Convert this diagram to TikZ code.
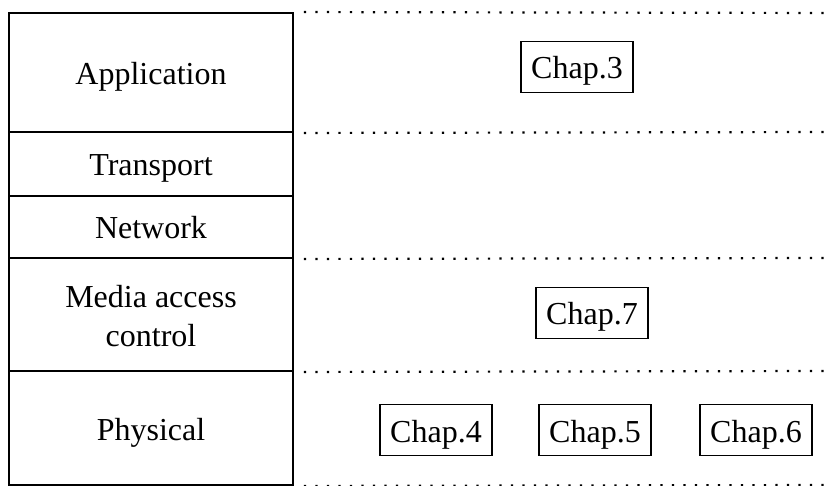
\documentclass[tikz,border=0pt]{standalone}
\usepackage{fontspec}
\setmainfont{Liberation Serif}
\begin{document}
\begin{tikzpicture}[x=1pt,y=-1pt,
  layer/.style={draw,line width=1.9pt,minimum width=284pt,inner sep=0pt,align=center,
    text height=24pt,text depth=0pt,font=\fontsize{32}{39}\selectfont},
  chap/.style={draw,line width=1.9pt,minimum height=51pt,inner xsep=10pt,inner ysep=0pt,
    text height=24pt,text depth=0pt,font=\fontsize{32}{39}\selectfont},
  sep/.style={line width=2.2pt,dash pattern=on 2.2pt off 9.3pt}]
\useasboundingbox (0,0) rectangle (830,486);
\node[layer,minimum height=119pt] (app) at (151,72.5) {Application};
\node[layer,minimum height=64pt] (tra) at (151,164) {Transport};
\node[layer,minimum height=62pt] (net) at (151,227) {Network};
\node[layer,minimum height=113pt,text height=63pt] (mac) at (151,314.5) {Media access\\control};
\node[layer,minimum height=114pt] (phy) at (151,428) {Physical};
\coordinate (d1) at (830,13);
\coordinate (d2) at (830,132);
\coordinate (d3) at (830,258);
\coordinate (d4) at (830,371);
\coordinate (d5) at (830,485);
\draw[sep] ([xshift=10pt]app.north east) -- (d1);
\draw[sep] ([xshift=10pt]app.south east) -- (d2);
\draw[sep] ([xshift=10pt]net.south east) -- (d3);
\draw[sep] ([xshift=10pt]mac.south east) -- (d4);
\draw[sep] ([xshift=10pt]phy.south east) -- (d5);
\node[chap] (c3) at (577,67) {Chap.3};
\node[chap] (c7) at (592,313) {Chap.7};
\node[chap] (c4) at (436,430) {Chap.4};
\node[chap] (c5) at (595,430) {Chap.5};
\node[chap] (c6) at (756,430) {Chap.6};
\end{tikzpicture}
\end{document}
